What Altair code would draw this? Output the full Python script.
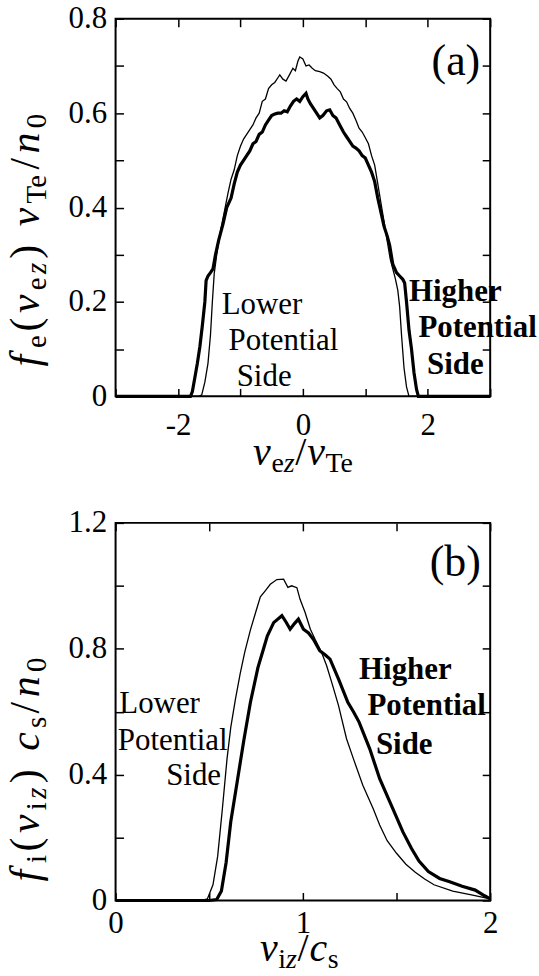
import altair as alt
import pandas as pd

# ---------------- data: panel (a) electrons ----------------
a_thin_v = [-3.0, -1.66, -1.62, -1.57, -1.52, -1.48, -1.45, -1.42, -1.38, -1.32, -1.26, -1.2, -1.15, -1.1,
            -1.05, -1.0, -0.95, -0.9, -0.85, -0.8, -0.75, -0.7, -0.65, -0.6, -0.55, -0.5, -0.45, -0.4,
            -0.37, -0.32, -0.27, -0.22, -0.16, -0.12, -0.08, -0.05, 0.0, 0.05, 0.1, 0.15, 0.2, 0.27,
            0.33, 0.4, 0.45, 0.5, 0.55, 0.6, 0.65, 0.7, 0.75, 0.8, 0.85, 0.9, 0.95, 1.0, 1.05, 1.1,
            1.15, 1.2, 1.25, 1.3, 1.35, 1.4, 1.44, 1.48, 1.52, 1.55, 1.58, 1.62, 1.66, 1.70, 3.0]
a_thin_f = [0, 0, 0.003, 0.03, 0.07, 0.13, 0.20, 0.26, 0.30, 0.35, 0.39, 0.43, 0.46, 0.48,
            0.51, 0.53, 0.545, 0.555, 0.565, 0.575, 0.59, 0.60, 0.625, 0.63, 0.652, 0.66, 0.665, 0.675,
            0.681, 0.672, 0.668, 0.68, 0.695, 0.69, 0.71, 0.719, 0.715, 0.70, 0.702, 0.695, 0.69, 0.688,
            0.685, 0.678, 0.672, 0.66, 0.652, 0.645, 0.63, 0.624, 0.61, 0.60, 0.585, 0.568, 0.56, 0.548,
            0.535, 0.51, 0.49, 0.45, 0.41, 0.37, 0.33, 0.29, 0.27, 0.25, 0.225, 0.19, 0.13, 0.06, 0.02,
            0, 0]

a_thick_v = [-3.0, -1.80, -1.77, -1.73, -1.69, -1.65, -1.61, -1.57, -1.55, -1.52, -1.48, -1.44, -1.40,
             -1.35, -1.28, -1.22, -1.15, -1.1, -1.05, -1.0, -0.95, -0.9, -0.85, -0.8, -0.75, -0.7, -0.65,
             -0.6, -0.55, -0.5, -0.45, -0.4, -0.35, -0.3, -0.25, -0.2, -0.15, -0.1, -0.05, 0.0, 0.05,
             0.08, 0.12, 0.17, 0.22, 0.27, 0.32, 0.38, 0.43, 0.48, 0.53, 0.59, 0.65, 0.7, 0.75, 0.8,
             0.85, 0.9, 0.95, 1.0, 1.05, 1.1, 1.15, 1.2, 1.25, 1.3, 1.35, 1.39, 1.44, 1.5, 1.55, 1.6,
             1.63, 1.66, 1.70, 1.74, 1.78, 1.82, 1.85, 3.0]
a_thick_f = [0, 0, 0.01, 0.04, 0.07, 0.105, 0.15, 0.20, 0.245, 0.255, 0.262, 0.27, 0.30,
             0.33, 0.365, 0.40, 0.42, 0.45, 0.475, 0.49, 0.50, 0.51, 0.52, 0.535, 0.54, 0.555, 0.56,
             0.575, 0.585, 0.595, 0.598, 0.60, 0.60, 0.605, 0.603, 0.615, 0.625, 0.63, 0.625, 0.635, 0.642,
             0.63, 0.62, 0.61, 0.60, 0.59, 0.595, 0.605, 0.607, 0.595, 0.59, 0.575, 0.56, 0.55, 0.54, 0.53,
             0.526, 0.52, 0.51, 0.505, 0.49, 0.475, 0.455, 0.42, 0.39, 0.36, 0.34, 0.32, 0.28, 0.262, 0.255,
             0.248, 0.24, 0.20, 0.14, 0.10, 0.05, 0.015, 0, 0]

# ---------------- data: panel (b) ions ----------------
b_thin_v = [0.0, 0.46, 0.49, 0.52, 0.545, 0.57, 0.595, 0.615, 0.64, 0.665, 0.69, 0.72, 0.75, 0.773,
            0.80, 0.826, 0.861, 0.897, 0.92, 0.94, 0.968, 0.985, 1.012, 1.04, 1.065, 1.10, 1.127, 1.154,
            1.19, 1.233, 1.27, 1.32, 1.375, 1.41, 1.45, 1.5, 1.55, 1.6, 1.65, 1.7, 1.8, 1.9, 2.0]
b_thin_f = [0, 0, 0.005, 0.05, 0.14, 0.29, 0.45, 0.55, 0.64, 0.72, 0.79, 0.86, 0.92, 0.965,
            0.985, 1.005, 1.02, 1.021, 0.995, 1.0, 0.994, 0.957, 0.915, 0.862, 0.83, 0.788, 0.746, 0.693,
            0.62, 0.514, 0.45, 0.366, 0.292, 0.24, 0.19, 0.15, 0.115, 0.09, 0.068, 0.05, 0.03, 0.018, 0.005]

b_thick_v = [0.0, 0.5, 0.54, 0.565, 0.59, 0.615, 0.65, 0.685, 0.72, 0.76, 0.79, 0.81, 0.844, 0.888,
             0.91, 0.932, 0.955, 0.976, 1.003, 1.03, 1.056, 1.09, 1.12, 1.145, 1.19, 1.24, 1.27, 1.30,
             1.357, 1.41, 1.48, 1.534, 1.58, 1.62, 1.67, 1.73, 1.78, 1.85, 1.92, 1.97, 2.0]
b_thick_f = [0, 0, 0.003, 0.03, 0.12, 0.25, 0.38, 0.51, 0.63, 0.74, 0.80, 0.84, 0.883, 0.905,
             0.885, 0.862, 0.88, 0.894, 0.862, 0.85, 0.83, 0.794, 0.78, 0.767, 0.704, 0.63, 0.60, 0.567,
             0.482, 0.387, 0.292, 0.218, 0.165, 0.125, 0.092, 0.07, 0.06, 0.045, 0.033, 0.015, 0.005]

# ---------------- axes ticks / labels ----------------
a_xticks = [-3, -2, -1, 0, 1, 2, 3]
a_xlabels = ["-2", "0", "2"]
a_yticks = [0, 0.1, 0.2, 0.3, 0.4, 0.5, 0.6, 0.7, 0.8]
a_ylabels = ["0", "0.2", "0.4", "0.6", "0.8"]
b_xticks = [0, 0.5, 1, 1.5, 2]
b_xlabels = ["0", "1", "2"]
b_yticks = [0, 0.2, 0.4, 0.6, 0.8, 1.0, 1.2]
b_ylabels = ["0", "0.4", "0.8", "1.2"]

# ---------------- annotations ----------------
ann_text = ["Lower", "Potential", "Side", "Higher", "Potential", "Side"]
ann_bold = [False, False, False, True, True, True]
a_ann_x = [-1.30, -1.19, -1.06, 1.70, 1.85, 1.99]
a_ann_y = [0.175, 0.098, 0.022, 0.203, 0.126, 0.048]
b_ann_x = [0.02, 0.012, 0.27, 1.30, 1.345, 1.39]
b_ann_y = [0.597, 0.479, 0.366, 0.704, 0.589, 0.466]

tags = ["(a)", "(b)"]
tag_x = [2.84, 1.95]
tag_y = [0.681, 1.031]

FONT = "'Liberation Serif', 'Times New Roman', Times, serif"
W = 376
H = 379

IT = {"f": 0.36, "v": 0.46, "n": 0.52, "c": 0.46, "z": 0.41}
RM = {"e": 0.444, "i": 0.278, "T": 0.611, "s": 0.389, "0": 0.5, "(": 0.36, ")": 0.36, "/": 0.30, " ": 0.25}


def piece_width(text, size, italic):
    table = IT if italic else RM
    return sum(table.get(c, 0.5) for c in text) * size


def title_layers(pieces, start, base, rotated, main=40, sub=28, shift=7, gap=0.0):
    layers = []
    pos = start
    for text, is_sub, italic in pieces:
        size = sub if is_sub else main
        w = piece_width(text, size, italic) + gap
        if text.strip():
            off = shift if is_sub else 0
            mk = alt.Chart().mark_text(
                text=text, font=FONT, fontSize=size,
                fontStyle="italic" if italic else "normal",
                align="left", baseline="alphabetic", color="black",
                angle=270 if rotated else 0,
            )
            if rotated:
                mk = mk.encode(x=alt.value(base + off), y=alt.value(pos))
            else:
                mk = mk.encode(x=alt.value(pos), y=alt.value(base + off))
            layers.append(mk)
        pos = pos - w if rotated else pos + w
    return layers


def axis(orient, values, shown, pad, labels=True):
    arr = "[" + ",".join("'" + s + "'" for s in shown) + "]"
    kw = dict(orient=orient, values=values, domain=False, grid=False, ticks=True,
              tickSize=8, tickWidth=1.5, tickColor="black", offset=-8, title=None,
              labels=labels)
    if labels:
        kw.update(labelExpr="indexof(" + arr + ", '' + datum.value) >= 0 ? '' + datum.value : ''",
                  labelFont=FONT, labelFontSize=31, labelColor="black", labelPadding=pad,
                  labelFlush=False, labelOverlap=False)
    return alt.Axis(**kw)


def panel(thin_v, thin_f, thick_v, thick_f, xdom, ydom, xt, xl, yt, yl, xpad,
          ann_x, ann_y, tag, tx, ty, xtitle, ytitle, xt_start, xt_base, yt_start, anchor_y):
    xs = alt.Scale(domain=xdom, nice=False, zero=False)
    ys = alt.Scale(domain=ydom, nice=False, zero=False)
    thin = pd.DataFrame({"v": thin_v, "f": thin_f})
    thick = pd.DataFrame({"v": thick_v, "f": thick_f})
    ann = pd.DataFrame({"t": ann_text, "x": ann_x, "y": ann_y, "b": ann_bold})

    l_thick = alt.Chart(thick).mark_line(color="black", strokeWidth=3.2).encode(
        x=alt.X("v:Q", scale=xs, axis=axis("bottom", xt, xl, xpad)),
        y=alt.Y("f:Q", scale=ys, axis=axis("left", yt, yl, 9)),
    )
    l_thin = alt.Chart(thin).mark_line(color="black", strokeWidth=1.3).encode(
        x=alt.X("v:Q", scale=xs, axis=axis("top", xt, xl, 0, labels=False)),
        y=alt.Y("f:Q", scale=ys, axis=axis("right", yt, yl, 0, labels=False)),
    )
    reg = alt.Chart(ann[~ann["b"]]).mark_text(
        font=FONT, fontSize=31, align="left", baseline="alphabetic", color="black"
    ).encode(x=alt.X("x:Q", scale=xs, axis=None), y=alt.Y("y:Q", scale=ys, axis=None), text="t:N")
    bold = alt.Chart(ann[ann["b"]]).mark_text(
        font=FONT, fontSize=31, fontWeight="bold", align="left", baseline="alphabetic", color="black"
    ).encode(x=alt.X("x:Q", scale=xs, axis=None), y=alt.Y("y:Q", scale=ys, axis=None), text="t:N")
    tagdf = pd.DataFrame({"t": [tag], "x": [tx], "y": [ty]})
    tagm = alt.Chart(tagdf).mark_text(
        font=FONT, fontSize=44, align="right", baseline="alphabetic", color="black"
    ).encode(x=alt.X("x:Q", scale=xs, axis=None), y=alt.Y("y:Q", scale=ys, axis=None), text="t:N")

    anchor = alt.Chart().mark_rule(strokeOpacity=0, strokeWidth=0).encode(
        x=alt.value(-115), x2=alt.value(539 - 115), y=alt.value(anchor_y))

    layers = [l_thick, l_thin, reg, bold, tagm, anchor]
    layers += title_layers(xtitle, xt_start, xt_base, rotated=False)
    layers += title_layers(ytitle, yt_start, -77, rotated=True, main=42, sub=29, gap=3.5)
    return alt.layer(*layers).properties(width=W, height=H).resolve_axis(x="independent", y="independent")


# pieces: (text, subscript?, italic?)
a_xtitle = [("v", 0, 1), ("e", 1, 0), ("z", 1, 1), ("/", 0, 0), ("v", 0, 1), ("Te", 1, 0)]
a_ytitle = [("f", 0, 1), ("e", 1, 0), ("(", 0, 0), ("v", 0, 1), ("e", 1, 0), ("z", 1, 1), (")", 0, 0),
            (" ", 0, 0), ("v", 0, 1), ("Te", 1, 0), ("/", 0, 0), ("n", 0, 1), ("0", 1, 0)]
b_xtitle = [("v", 0, 1), ("i", 1, 0), ("z", 1, 1), ("/", 0, 0), ("c", 0, 1), ("s", 1, 0)]
b_ytitle = [("f", 0, 1), ("i", 1, 0), ("(", 0, 0), ("v", 0, 1), ("i", 1, 0), ("z", 1, 1), (")", 0, 0),
            (" ", 0, 0), ("c", 0, 1), ("s", 1, 0), ("/", 0, 0), ("n", 0, 1), ("0", 1, 0)]

pa = panel(a_thin_v, a_thin_f, a_thick_v, a_thick_f, [-3, 3], [0, 0.8], a_xticks, a_xlabels,
           a_yticks, a_ylabels, 14, a_ann_x, a_ann_y, tags[0], tag_x[0], tag_y[0],
           a_xtitle, a_ytitle, 138, 448, 349, -13)
pb = panel(b_thin_v, b_thin_f, b_thick_v, b_thick_f, [0, 2], [0, 1.2], b_xticks, b_xlabels,
           b_yticks, b_ylabels, 8, b_ann_x, b_ann_y, tags[1], tag_x[1], tag_y[1],
           b_xtitle, b_ytitle, 145, 440, 360, 456)

chart = alt.vconcat(pa, pb, spacing=127, bounds="flush").properties(padding=0).configure_view(
    stroke="black", strokeWidth=2)

chart.save("out.html", embed_options={"renderer": "svg", "actions": False})
